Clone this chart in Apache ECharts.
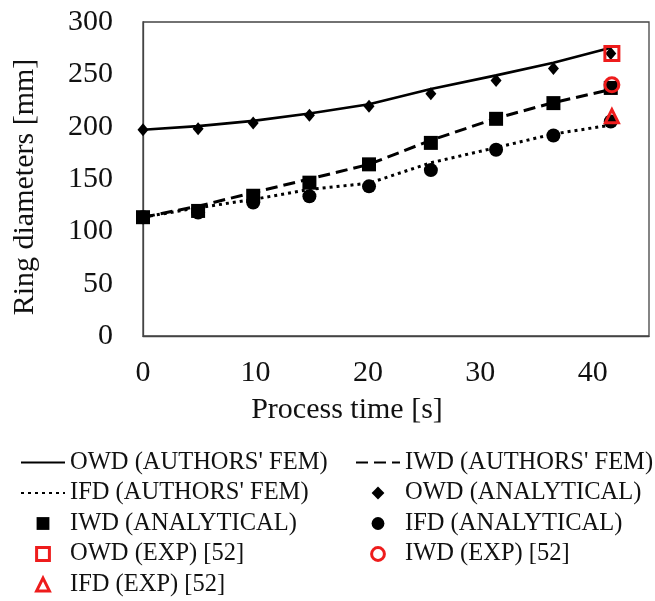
<!DOCTYPE html>
<html>
<head>
<meta charset="utf-8">
<script src="https://cdn.jsdelivr.net/npm/echarts@6/dist/echarts.min.js"></script>
<style>
html,body{margin:0;padding:0;background:#fff;}
#c{width:655px;height:601px;}
</style>
</head>
<body>
<div id="c"></div>
<script>
// Process time [s]
var times = [0, 4.9, 9.8, 14.8, 20.1, 25.6, 31.4, 36.5, 41.6];
// Authors' FEM curves
var owdFem = [197, 200.5, 205.5, 212.5, 221.5, 236, 249, 261, 275.5];
var iwdFem = [113.5, 124, 137, 150, 164, 187, 208, 223, 235.5];
var ifdFem = [113.5, 122.5, 130.5, 140, 146, 165.5, 180, 193, 201.5];
// Analytical
var owdAna = [197, 198, 203.5, 211, 219.5, 231.5, 244, 255.5, 270];
var iwdAna = [113.5, 119.5, 134, 146.5, 164, 184.5, 207.5, 222.5, 237];
var ifdAna = [113.5, 118, 127.5, 133.5, 143, 158.5, 178, 191.5, 205];
// Experiment [52]
var expTime = [41.7];
var owdExp = [270];
var iwdExp = [240];
var ifdExp = [210];
// Axis ticks
var xTicks = [0, 10, 20, 30, 40];
var yTicks = [0, 50, 100, 150, 200, 250, 300];

function pairs(xs, ys) { return xs.map(function (x, i) { return [x, ys[i]]; }); }

var FONT = 'Liberation Serif';
var RED = '#ee1c1c';
var BLACK = '#000';

var names = {
  owdFem: "OWD (AUTHORS' FEM)", iwdFem: "IWD (AUTHORS' FEM)", ifdFem: "IFD (AUTHORS' FEM)",
  owdAna: 'OWD (ANALYTICAL)', iwdAna: 'IWD (ANALYTICAL)', ifdAna: 'IFD (ANALYTICAL)',
  owdExp: 'OWD (EXP) [52]', iwdExp: 'IWD (EXP) [52]', ifdExp: 'IFD (EXP) [52]'
};

var legendBase = {
  orient: 'vertical', itemWidth: 44, itemHeight: 16, itemGap: 5.5, padding: 0,
  textStyle: { fontFamily: FONT, fontSize: 24.5, color: '#111' },
  selectedMode: false
};
var hideSym = { opacity: 0 };
var thickRed = { borderWidth: 3, borderColor: RED };
var noLine = { width: 0, opacity: 0 };

function markerSeries(name, symbol, size, xs, ys, style, z) {
  return { name: name, type: 'line', symbol: symbol, symbolSize: size, showSymbol: true,
    data: pairs(xs, ys), z: z, lineStyle: noLine, itemStyle: style, emphasis: { disabled: true } };
}

var solidBlack = { color: BLACK, opacity: 1 };
var hollowRed = { color: 'rgba(255,255,255,0)', borderColor: RED, borderWidth: 3, opacity: 1 };

var chart = echarts.init(document.getElementById('c'), null, { renderer: 'canvas' });
chart.setOption({
  animation: false,
  backgroundColor: '#fff',
  grid: { left: 143, right: 6, top: 22, bottom: 265, show: true, borderColor: '#444', borderWidth: 1.3 },
  xAxis: {
    type: 'value', min: xTicks[0], max: 45, interval: 10,
    axisLine: { show: true, lineStyle: { color: '#444', width: 1.3 } },
    axisTick: { show: false }, splitLine: { show: false },
    axisLabel: { fontFamily: FONT, fontSize: 30, color: '#111', margin: 22,
      formatter: function (v) { return xTicks.indexOf(v) >= 0 ? String(v) : ''; } },
    name: 'Process time [s]', nameLocation: 'middle', nameGap: 59,
    nameTextStyle: { fontFamily: FONT, fontSize: 30, color: '#111', padding: [0, 98, 0, 0] }
  },
  yAxis: {
    type: 'value', min: yTicks[0], max: yTicks[yTicks.length - 1], interval: 50,
    axisLine: { show: true, lineStyle: { color: '#444', width: 1.3 } },
    axisTick: { show: false }, splitLine: { show: false },
    axisLabel: { fontFamily: FONT, fontSize: 30, color: '#111', margin: 30 },
    name: 'Ring diameters [mm]', nameLocation: 'middle', nameGap: 103, nameRotate: 90,
    nameTextStyle: { fontFamily: FONT, fontSize: 30, color: '#111', padding: [0, 16, 0, 0] }
  },
  legend: [
    Object.assign({}, legendBase, { left: 20, top: 450, data: [
      { name: names.owdFem, itemStyle: hideSym },
      { name: names.ifdFem, itemStyle: hideSym },
      { name: names.iwdAna },
      { name: names.owdExp, itemStyle: thickRed },
      { name: names.ifdExp, itemStyle: thickRed }
    ] }),
    Object.assign({}, legendBase, { left: 355, top: 450, data: [
      { name: names.iwdFem, itemStyle: hideSym },
      { name: names.owdAna },
      { name: names.ifdAna },
      { name: names.iwdExp, itemStyle: thickRed }
    ] })
  ],
  series: [
    { name: names.owdFem, type: 'line', symbol: 'none', data: pairs(times, owdFem), z: 2,
      lineStyle: { color: BLACK, width: 2.6 }, itemStyle: { color: BLACK } },
    { name: names.iwdFem, type: 'line', symbol: 'none', data: pairs(times, iwdFem), z: 2,
      lineStyle: { color: BLACK, width: 3, type: [12, 6] }, itemStyle: { color: BLACK } },
    { name: names.ifdFem, type: 'line', symbol: 'none', data: pairs(times, ifdFem), z: 2,
      lineStyle: { color: BLACK, width: 3, type: [3, 4] }, itemStyle: { color: BLACK } },
    markerSeries(names.owdAna, 'diamond', [11, 13], times, owdAna, solidBlack, 3),
    markerSeries(names.iwdAna, 'rect', 14, times, iwdAna, solidBlack, 3),
    markerSeries(names.ifdAna, 'circle', 14, times, ifdAna, solidBlack, 3),
    markerSeries(names.owdExp, 'rect', 14, expTime, owdExp, hollowRed, 4),
    markerSeries(names.iwdExp, 'circle', 14, expTime, iwdExp, hollowRed, 4),
    markerSeries(names.ifdExp, 'triangle', 13, expTime, ifdExp, hollowRed, 4)
  ]
});
</script>
</body>
</html>
